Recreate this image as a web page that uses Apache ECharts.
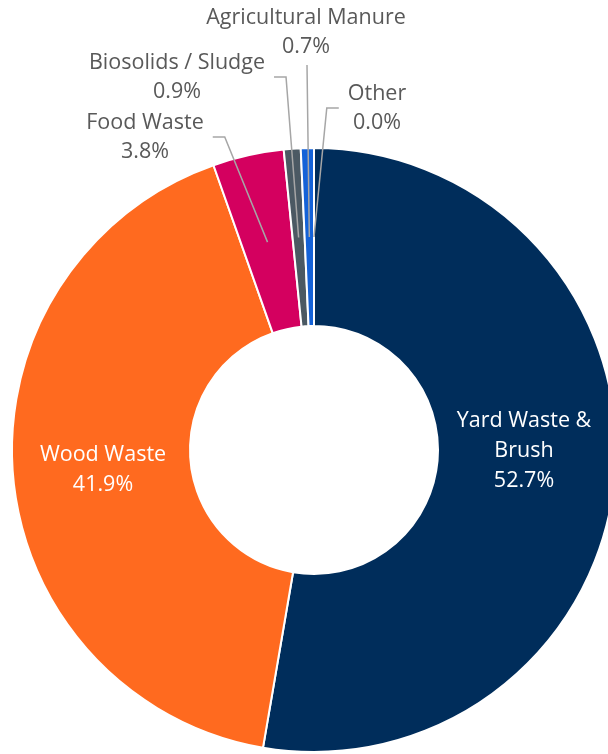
<!DOCTYPE html>
<html><head><meta charset="utf-8">
<script src="https://cdn.jsdelivr.net/npm/echarts@6/dist/echarts.min.js"></script>
<style>html,body{margin:0;padding:0;background:#fff}#c{width:608px;height:754px}</style>
</head><body><div id="c"></div>
<script>
// ---- data ----
const categories = ['Yard Waste & Brush', 'Wood Waste', 'Food Waste', 'Biosolids / Sludge', 'Agricultural Manure', 'Other'];
const labelTexts = ['Yard Waste &\nBrush', 'Wood Waste', 'Food Waste', 'Biosolids / Sludge', 'Agricultural Manure', 'Other'];
const shares = [52.7, 41.9, 3.8, 0.9, 0.7, 0.0];

// ---- styles ----
const colors = ['#002D5B', '#FF6A1F', '#D4005F', '#4B5963', '#1462D8', '#8FB4E3'];
const CX = 314, CY = 450, R0 = 124, R1 = 302, RM = 213;
const labelPlace = [
  { x: 524, y: 451, inside: true },
  { x: 103, y: 470, inside: true },
  { x: 145, y: 137, side: 'left' },
  { x: 177, y: 77, side: 'left' },
  { x: 306, y: 32, side: 'top' },
  { x: 377, y: 108, side: 'right' }
];
const FONT = 'Open Sans';
const FS = 21.5;

const sliceData = categories.map((c, i) => ({
  name: c, value: shares[i], itemStyle: { color: colors[i] }
}));
const labelData = categories.map((c, i) => {
  const inside = labelPlace[i].inside;
  return {
    name: c,
    value: shares[i],
    label: inside ? { position: 'inside', color: '#ffffff', lineHeight: 30 } : { position: 'outside', color: '#595959', lineHeight: 29 },
    labelLine: { show: !inside }
  };
});

const chart = echarts.init(document.getElementById('c'), null, { renderer: 'canvas' });
chart.setOption({
  backgroundColor: '#ffffff',
  animation: false,
  series: [{
    type: 'pie',
    z: 2,
    center: [CX, CY],
    radius: [R0, R1],
    startAngle: 90,
    clockwise: true,
    avoidLabelOverlap: false,
    itemStyle: { borderColor: '#ffffff', borderWidth: 2 },
    label: { show: false },
    labelLine: { show: false },
    data: sliceData
  }, {
    type: 'pie',
    z: 5,
    silent: true,
    center: [CX, CY],
    radius: [R0, R1],
    startAngle: 90,
    clockwise: true,
    avoidLabelOverlap: false,
    itemStyle: { color: 'rgba(0,0,0,0)', borderWidth: 0 },
    label: {
      fontFamily: FONT,
      fontSize: FS,
      formatter: p => labelTexts[p.dataIndex] + '\n' + shares[p.dataIndex].toFixed(1) + '%'
    },
    labelLine: { lineStyle: { color: '#A6A6A6', width: 1.5 }, length: 10, length2: 10 },
    labelLayout: function (p) {
      const s = labelPlace[p.dataIndex];
      const out = { x: s.x, y: s.y, align: 'center', verticalAlign: 'middle' };
      if (!s.inside && p.labelLinePoints) {
        const a = p.labelLinePoints[0];
        const dx = a[0] - CX, dy = a[1] - CY, d = Math.hypot(dx, dy) || 1;
        const P = [CX + dx / d * RM, CY + dy / d * RM];
        const w = p.labelRect.width, h = p.labelRect.height;
        let end, elbow;
        if (s.side === 'left') { end = [s.x + w / 2 + 9, s.y]; elbow = [end[0] + 12, s.y]; }
        else if (s.side === 'right') { end = [s.x - w / 2 - 9, s.y]; elbow = [end[0] - 12, s.y]; }
        else { end = [s.x + 1, s.y + h / 2 + 4]; elbow = [(end[0] + P[0]) / 2, (end[1] + P[1]) / 2]; }
        out.labelLinePoints = [P, elbow, end];
      }
      return out;
    },
    data: labelData
  }]
});
</script>
</body></html>
